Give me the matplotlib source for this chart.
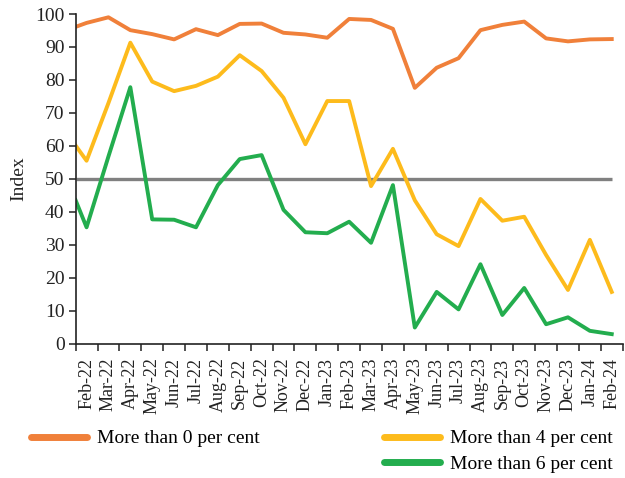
import numpy as np
import matplotlib
matplotlib.use("Agg")
import matplotlib.pyplot as plt

# month labels (category axis)
months = ["Feb-22", "Mar-22", "Apr-22", "May-22", "Jun-22", "Jul-22", "Aug-22",
          "Sep-22", "Oct-22", "Nov-22", "Dec-22", "Jan-23", "Feb-23", "Mar-23",
          "Apr-23", "May-23", "Jun-23", "Jul-23", "Aug-23", "Sep-23", "Oct-23",
          "Nov-23", "Dec-23", "Jan-24", "Feb-24"]

# first value sits on the axis edge, the rest on each month
more_than_0 = [96.1, 97.3, 99.0, 95.1, 93.9, 92.3, 95.4, 93.6, 97.0, 97.1, 94.3, 93.8,
               92.8, 98.5, 98.2, 95.5, 77.6, 83.7, 86.6, 95.1, 96.7, 97.7, 92.6,
               91.7, 92.3, 92.4]
more_than_4 = [60.1, 55.5, 73.0, 91.3, 79.5, 76.6, 78.2, 81.0, 87.5, 82.7, 74.6, 60.5,
               73.6, 73.6, 47.8, 59.1, 43.5, 33.2, 29.6, 43.9, 37.3, 38.5, 26.9,
               16.3, 31.5, 15.7]
more_than_6 = [43.5, 35.3, 56.8, 77.8, 37.7, 37.6, 35.3, 48.1, 56.0, 57.2, 40.6, 33.8,
               33.5, 37.0, 30.6, 48.1, 4.9, 15.7, 10.4, 24.1, 8.7, 16.9, 5.9,
               8.0, 3.9, 2.9]
threshold = 50

plt.rcParams['font.family'] = ['Liberation Serif', 'DejaVu Serif']

x = np.concatenate([[-0.5], np.arange(len(months))])

fig = plt.figure(figsize=(6.25, 4.78), dpi=100)
ax = fig.add_axes([0.121, 0.281, 0.8753, 0.6897])

ax.plot(x, [threshold] * len(x), color="#808080", lw=2.4, solid_capstyle="butt")
l0, = ax.plot(x, more_than_0, color="#F0803A", lw=2.8, label="More than 0 per cent")
l4, = ax.plot(x, more_than_4, color="#FDBB1C", lw=2.8, label="More than 4 per cent")
l6, = ax.plot(x, more_than_6, color="#23AD4E", lw=2.8, label="More than 6 per cent")

ax.set_xlim(-0.5, len(months) - 0.5)
ax.set_ylim(0, 100)
ax.set_yticks(range(0, 101, 10))
ax.set_xticks(np.arange(len(months) + 1) - 0.5)
ax.set_xticklabels([])
ax.set_xticks(np.arange(len(months)), minor=True)
ax.set_xticklabels(months, minor=True, rotation=90)
ax.tick_params(axis="x", which="minor", length=0, pad=10, labelsize=13, colors="#222222")
ax.tick_params(axis="x", which="major", length=5, width=1.2, color="#333333")
ax.tick_params(axis="y", length=5, width=1.2, color="#333333", labelsize=14,
               labelcolor="#222222", pad=3)
for s in ["top", "right"]:
    ax.spines[s].set_visible(False)
for s in ["left", "bottom"]:
    ax.spines[s].set_linewidth(1.2)
    ax.spines[s].set_color("#222222")
ax.set_ylabel("Index", fontsize=14, color="#222222", labelpad=6)

leg_kw = dict(frameon=False, fontsize=14, handlelength=2.9, handletextpad=0.5,
              labelspacing=0.4, borderaxespad=0)
fig.legend(handles=[l0], loc="upper left", bbox_to_anchor=(0.037, 0.117), **leg_kw)
fig.legend(handles=[l4, l6], loc="upper left", bbox_to_anchor=(0.602, 0.117), **leg_kw)
for leg in fig.legends:
    for h in leg.get_lines():
        h.set_linewidth(5)
        h.set_solid_capstyle("round")

fig.savefig("out.png", dpi=100)
